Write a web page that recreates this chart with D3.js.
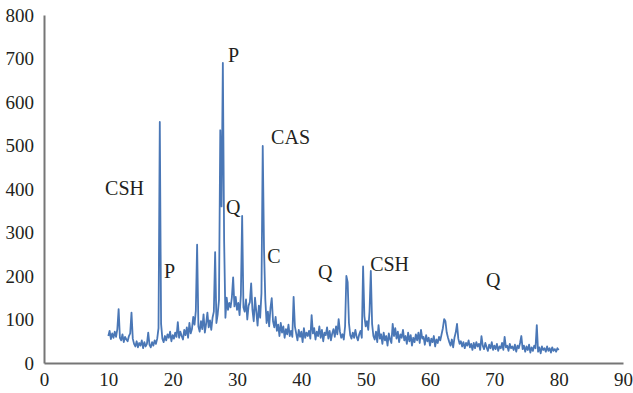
<!DOCTYPE html>
<html>
<head>
<meta charset="utf-8">
<script src="https://cdn.jsdelivr.net/npm/d3@7"></script>
<style>
  body { margin: 0; background: #fff; }
  svg { display: block; }
  .axis text { font-family: "Liberation Serif", "Times New Roman", serif; font-size: 19px; fill: #231f20; }
  .axis path { stroke: #767676; stroke-width: 2; }
  .phase { font-family: "Liberation Serif", "Times New Roman", serif; font-size: 20px; fill: #231f20; }
</style>
</head>
<body>
<svg id="chart"></svg>
<script>
// XRD scan: 2-theta from 10 to 80 deg, step 0.2
const scanStart = 10;
const scanStep = 0.2;
const intensity = [
  62, 74, 55, 68, 58,
  72, 60, 78, 124, 58,
  52, 66, 48, 60, 54,
  50, 62, 68, 116, 56,
  44, 38, 50, 36, 46,
  40, 52, 34, 48, 38,
  44, 70, 42, 36, 48,
  40, 52, 44, 56, 80,
  554, 90, 56, 48, 62,
  52, 66, 58, 72, 50,
  64, 56, 70, 60, 94,
  58, 72, 62, 54, 76,
  64, 82, 58, 92, 68,
  78, 106, 88, 120, 272,
  84, 72, 96, 78, 112,
  70, 90, 116, 82, 98,
  76, 104, 118, 255, 92,
  112, 145, 535, 360, 690,
  280, 104, 150, 122, 138,
  128, 150, 197, 130, 152,
  122, 138, 110, 156, 338,
  128, 118, 146, 100, 132,
  140, 183, 122, 96, 150,
  118, 86, 132, 104, 160,
  499, 262, 146, 92, 118,
  84, 126, 149, 96, 82,
  106, 74, 88, 62, 92,
  70, 84, 58, 78, 66,
  88, 62, 74, 60, 152,
  84, 68, 52, 76, 60,
  72, 48, 80, 58, 70,
  62, 74, 56, 110, 68,
  80, 54, 72, 62, 84,
  58, 76, 50, 70, 64,
  82, 56, 74, 52, 68,
  78, 60, 84, 66, 101,
  72, 58, 66, 54, 84,
  200, 186, 92, 64, 56,
  70, 58, 76, 60, 52,
  66, 74, 58, 222, 108,
  84, 96, 76, 118, 212,
  90, 62, 54, 72, 48,
  87, 56, 66, 44, 70,
  52, 62, 40, 68, 54,
  46, 90, 62, 80, 56,
  72, 48, 66, 58, 76,
  52, 62, 44, 70, 50,
  64, 40, 58, 48, 66,
  52, 70, 46, 76, 56,
  60, 42, 64, 50, 58,
  40, 56, 48, 62, 38,
  54, 46, 60, 52, 66,
  80, 101, 96, 70, 58,
  48, 40, 54, 36, 58,
  70, 90, 56, 44, 50,
  38, 48, 34, 46, 40,
  52, 36, 44, 30, 46,
  34, 48, 38, 44, 30,
  62, 40, 32, 46, 36,
  28, 42, 34, 48, 30,
  40, 32, 44, 28, 38,
  34, 46, 30, 60, 36,
  40, 28, 44, 34, 38,
  30, 42, 26, 40, 34,
  46, 62, 32, 40, 26,
  38, 30, 42, 24, 36,
  28, 40, 34, 87, 26,
  36, 22, 38, 30, 34,
  26, 38, 28, 34, 24,
  36, 28, 32, 26, 34,
  30
];

// phase annotations (text, 2-theta, intensity at baseline)
const phaseNames = ["CSH", "P", "P", "Q", "CAS", "C", "Q", "CSH", "Q"];
const phaseAngles = [9.5, 18.65, 28.6, 28.3, 35.3, 34.7, 42.6, 50.7, 68.7];
const phaseLevels = [386, 195, 692, 343, 503, 230, 193, 211, 175];

const xTicks = [0, 10, 20, 30, 40, 50, 60, 70, 80, 90];
const yTicks = [0, 100, 200, 300, 400, 500, 600, 700, 800];

const W = 633, H = 393;
const margin = { top: 15, right: 10, bottom: 30, left: 44 };

const svg = d3.select("#chart").attr("width", W).attr("height", H);

const x = d3.scaleLinear().domain([0, 90]).range([margin.left, W - margin.right]);
const y = d3.scaleLinear().domain([0, 800]).range([H - margin.bottom, margin.top]);

const points = intensity.map((v, i) => [scanStart + i * scanStep, v]);

const line = d3.line()
  .x(d => x(d[0]))
  .y(d => y(d[1]));

svg.append("path")
  .datum(points)
  .attr("fill", "none")
  .attr("stroke", "#4a77b6")
  .attr("stroke-width", 1.8)
  .attr("stroke-linejoin", "round")
  .attr("d", line);

svg.append("g")
  .attr("class", "axis")
  .attr("transform", "translate(" + margin.left + ",0)")
  .call(d3.axisLeft(y).tickValues(yTicks).tickSize(0).tickPadding(10))
  .call(g => g.selectAll(".tick line").remove());

svg.append("g")
  .attr("class", "axis")
  .attr("transform", "translate(0," + (H - margin.bottom) + ")")
  .call(d3.axisBottom(x).tickValues(xTicks).tickSize(0).tickPadding(10))
  .call(g => g.selectAll(".tick line").remove());

svg.selectAll("text.phase")
  .data(phaseNames)
  .enter().append("text")
  .attr("class", "phase")
  .attr("x", (d, i) => x(phaseAngles[i]))
  .attr("y", (d, i) => y(phaseLevels[i]))
  .text(d => d);
</script>
</body>
</html>
